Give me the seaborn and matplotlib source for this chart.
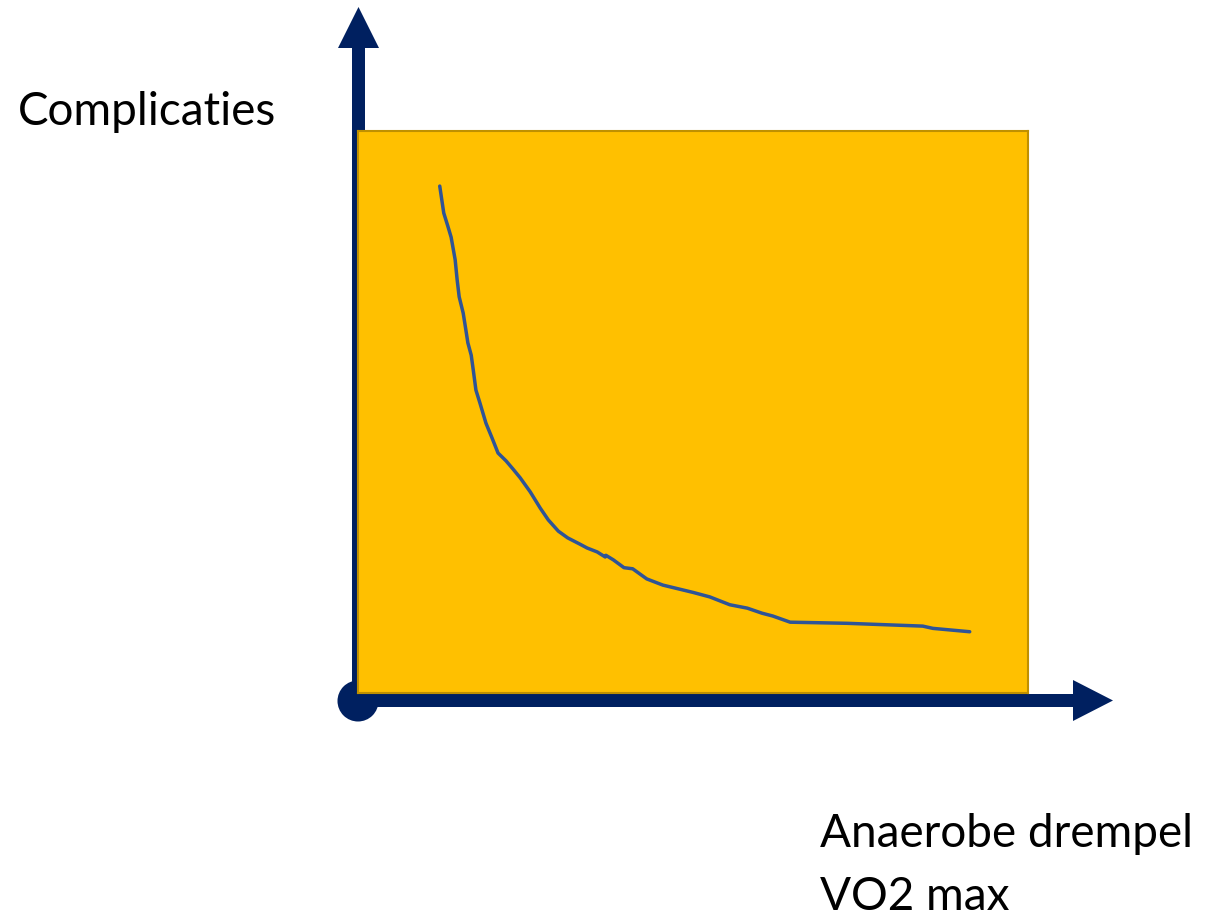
import matplotlib
matplotlib.use('Agg')
import matplotlib.pyplot as plt
import seaborn as sns
from matplotlib.patches import FancyArrow, Circle

# waarden (willekeurige eenheden, 0-100)
anaerobe = [12.2, 12.8, 13.4, 13.9, 14.5, 14.8, 15.1, 15.7, 16.1, 16.4, 16.9, 17.2,
            17.6, 18.2, 19.1, 20.0, 20.9, 22.1, 23.1, 24.2, 25.7, 27.2, 28.4, 29.9,
            31.3, 33.1, 34.2, 35.7, 36.9, 37.0, 38.1, 39.7, 41.0, 43.1, 45.5, 50.0,
            52.5, 55.5, 58.1, 60.3, 61.9, 64.5, 73.0, 84.3, 85.8, 91.3]
complicaties = [90.2, 85.4, 83.1, 81.1, 77.1, 73.5, 70.5, 67.6, 64.6, 62.3, 60.1, 57.5,
                53.9, 51.6, 48.0, 45.4, 42.7, 41.3, 39.9, 38.3, 35.8, 32.9, 30.8, 28.8,
                27.6, 26.5, 25.8, 25.1, 24.2, 24.5, 23.7, 22.3, 22.1, 20.3, 19.2, 17.9,
                17.1, 15.7, 15.1, 14.2, 13.7, 12.6, 12.4, 11.9, 11.5, 10.9]

y_label = 'Complicaties'
x_label_lines = ['Anaerobe drempel', 'VO2 max']

NAVY = '#002060'
GOLD = '#FFC000'
GOLD_EDGE = '#BF9000'
LINE = '#2F5496'

sns.set_style('white')
plt.rcParams['font.family'] = ['Lato', 'DejaVu Sans']

W, H = 1224, 921
fig = plt.figure(figsize=(W / 100, H / 100), dpi=100)

# achtergrond-assen in pixels voor de pijlen en teksten
bg = fig.add_axes([0, 0, 1, 1])
bg.set_xlim(0, W)
bg.set_ylim(H, 0)
bg.axis('off')

bg.add_patch(FancyArrow(358.5, 705, 0, -698, width=13, head_width=41, head_length=41,
                        length_includes_head=True, color=NAVY, lw=0))
bg.add_patch(FancyArrow(350, 700.5, 763, 0, width=13, head_width=41, head_length=40,
                        length_includes_head=True, color=NAVY, lw=0))
bg.add_patch(Circle((358, 701), 20.5, color=NAVY, lw=0))

bg.text(18, 125, y_label, fontsize=33, va='baseline', ha='left', color='black')
for i, line in enumerate(x_label_lines):
    bg.text(820, 847 + i * 63, line, fontsize=33, va='baseline', ha='left', color='black')

# het gele vlak met de curve
ax = fig.add_axes([358 / W, (H - 693) / H, 670 / W, 562 / H])
ax.set_facecolor(GOLD)
sns.lineplot(x=anaerobe, y=complicaties, sort=False, color=LINE, linewidth=2.5, ax=ax)
ax.set_xlim(0, 100)
ax.set_ylim(0, 100)
ax.set_xticks([])
ax.set_yticks([])
for s in ax.spines.values():
    s.set_color(GOLD_EDGE)
    s.set_linewidth(1.5)

fig.savefig('out.png', dpi=100)
